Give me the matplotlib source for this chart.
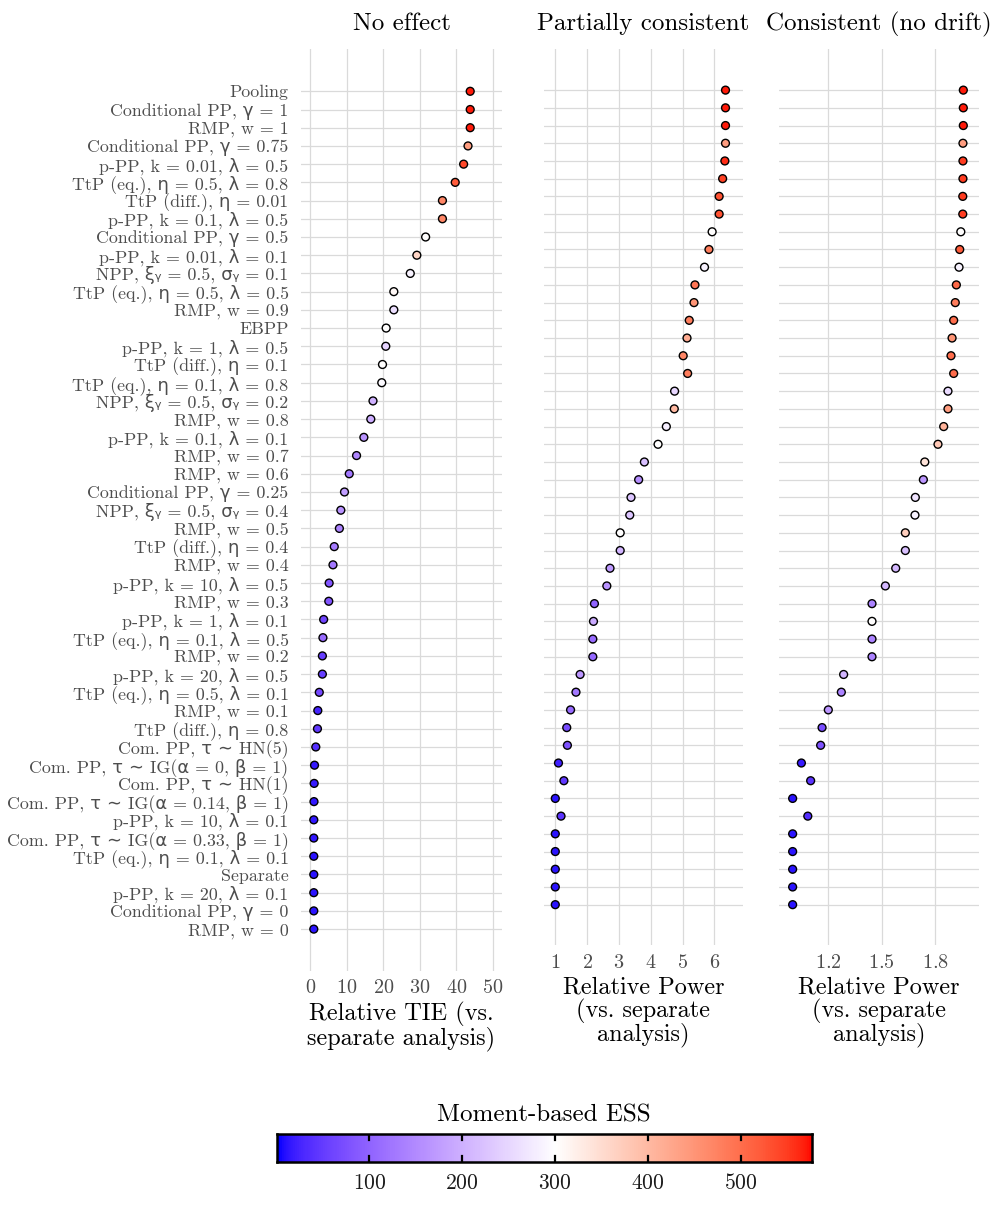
import numpy as np
import matplotlib
matplotlib.use("Agg")
import matplotlib.pyplot as plt
from matplotlib.colors import ListedColormap, TwoSlopeNorm

plt.rcParams['font.family'] = ['cmr10', 'DejaVu Sans']
plt.rcParams['axes.formatter.use_mathtext'] = True

# methods, top to bottom as in the "No effect" panel
methods = [
    "Pooling", "Conditional PP, γ = 1", "RMP, w = 1", "Conditional PP, γ = 0.75",
    "p-PP, k = 0.01, λ = 0.5", "TtP (eq.), η = 0.5, λ = 0.8", "TtP (diff.), η = 0.01",
    "p-PP, k = 0.1, λ = 0.5", "Conditional PP, γ = 0.5", "p-PP, k = 0.01, λ = 0.1",
    "NPP, ξᵧ = 0.5, σᵧ = 0.1", "TtP (eq.), η = 0.5, λ = 0.5", "RMP, w = 0.9", "EBPP",
    "p-PP, k = 1, λ = 0.5", "TtP (diff.), η = 0.1", "TtP (eq.), η = 0.1, λ = 0.8",
    "NPP, ξᵧ = 0.5, σᵧ = 0.2", "RMP, w = 0.8", "p-PP, k = 0.1, λ = 0.1", "RMP, w = 0.7",
    "RMP, w = 0.6", "Conditional PP, γ = 0.25", "NPP, ξᵧ = 0.5, σᵧ = 0.4", "RMP, w = 0.5",
    "TtP (diff.), η = 0.4", "RMP, w = 0.4", "p-PP, k = 10, λ = 0.5", "RMP, w = 0.3",
    "p-PP, k = 1, λ = 0.1", "TtP (eq.), η = 0.1, λ = 0.5", "RMP, w = 0.2",
    "p-PP, k = 20, λ = 0.5", "TtP (eq.), η = 0.5, λ = 0.1", "RMP, w = 0.1",
    "TtP (diff.), η = 0.8", "Com. PP, τ ∼ HN(5)", "Com. PP, τ ∼ IG(α = 0, β = 1)",
    "Com. PP, τ ∼ HN(1)", "Com. PP, τ ∼ IG(α = 0.14, β = 1)", "p-PP, k = 10, λ = 0.1",
    "Com. PP, τ ∼ IG(α = 0.33, β = 1)", "TtP (eq.), η = 0.1, λ = 0.1", "Separate",
    "p-PP, k = 20, λ = 0.1", "Conditional PP, γ = 0", "RMP, w = 0",
]

# panel 1: relative TIE and ESS
tie = [43.8, 43.8, 43.8, 43.2, 42.0, 39.7, 36.2, 36.2, 31.6, 29.2, 27.4, 22.9,
       22.9, 20.8, 20.7, 19.8, 19.6, 17.2, 16.6, 14.7, 12.7, 10.7, 9.4, 8.4, 8.0,
       6.6, 6.25, 5.2, 5.1, 3.7, 3.5, 3.35, 3.35, 2.5, 2.1, 2.0, 1.55, 1.2, 1.1,
       1.05, 1.0, 1.0, 1.0, 1.0, 1.0, 1.0, 1.0]
ess_tie = [570, 570, 570, 440, 540, 520, 470, 470, 300, 360, 285, 310, 260, 300,
           245, 300, 295, 200, 195, 160, 145, 125, 175, 160, 140, 130, 125, 80, 80,
           60, 110, 50, 50, 65, 25, 45, 35, 15, 15, 12, 12, 12, 10, 10, 10, 10, 10]

# panel 2: relative power, partially consistent
pow_part = [6.35, 6.35, 6.35, 6.35, 6.33, 6.26, 6.15, 6.15, 5.93, 5.83, 5.69,
            5.39, 5.36, 5.21, 5.14, 5.02, 5.16, 4.75, 4.74, 4.49, 4.23, 3.80, 3.62,
            3.38, 3.34, 3.04, 3.04, 2.72, 2.62, 2.23, 2.20, 2.18, 2.18, 1.78, 1.65,
            1.48, 1.36, 1.38, 1.10, 1.27, 1.0, 1.18, 1.0, 1.0, 1.0, 1.0, 1.0]
ess_part = [570, 570, 570, 440, 560, 545, 530, 530, 300, 480, 285, 490, 450, 480,
            420, 470, 480, 250, 400, 280, 300, 220, 155, 225, 225, 300, 205, 170,
            160, 100, 190, 110, 105, 165, 125, 110, 70, 75, 20, 45, 10, 40, 10, 10,
            10, 10, 10]

# panel 3: relative power, consistent (no drift)
pow_cons = [1.957, 1.957, 1.957, 1.955, 1.955, 1.955, 1.954, 1.954, 1.943, 1.937,
            1.933, 1.918, 1.912, 1.903, 1.894, 1.888, 1.903, 1.871, 1.871, 1.847,
            1.815, 1.741, 1.733, 1.688, 1.686, 1.632, 1.632, 1.578, 1.52, 1.445,
            1.445, 1.445, 1.445, 1.286, 1.273, 1.20, 1.165, 1.157, 1.049, 1.101,
            1.0, 1.085, 1.0, 1.0, 1.0, 1.0, 1.0]
ess_cons = [570, 570, 570, 440, 550, 550, 550, 550, 300, 520, 285, 505, 480, 500,
            450, 500, 500, 255, 440, 410, 380, 340, 165, 265, 285, 370, 220, 210,
            210, 140, 300, 140, 140, 205, 140, 165, 70, 75, 15, 40, 10, 35, 10, 10,
            10, 10, 10]

titles = ["No effect", "Partially consistent", "Consistent (no drift)"]
xlabels = ["Relative TIE (vs.\nseparate analysis)",
           "Relative Power\n(vs. separate\nanalysis)",
           "Relative Power\n(vs. separate\nanalysis)"]
ess_ticks = [100, 200, 300, 400, 500]
ess_min, ess_mid, ess_max = 0, 300, 577


def srgb_to_lab(c):
    c = np.asarray(c, float)
    lin = np.where(c <= 0.04045, c / 12.92, ((c + 0.055) / 1.055) ** 2.4)
    xyz = M @ lin / WHITE
    f = np.where(xyz > 0.008856, np.cbrt(xyz), 7.787 * xyz + 16 / 116)
    return np.array([116 * f[1] - 16, 500 * (f[0] - f[1]), 200 * (f[1] - f[2])])


def lab_to_srgb(lab):
    L, a, b = lab
    fy = (L + 16) / 116
    f = np.array([fy + a / 500, fy, fy - b / 200])
    xyz = np.where(f ** 3 > 0.008856, f ** 3, (f - 16 / 116) / 7.787) * WHITE
    lin = np.linalg.solve(M, xyz)
    c = np.where(lin <= 0.0031308, 12.92 * lin, 1.055 * np.abs(lin) ** (1 / 2.4) - 0.055)
    return np.clip(c, 0, 1)


M = np.array([[0.4124, 0.3576, 0.1805], [0.2126, 0.7152, 0.0722], [0.0193, 0.1192, 0.9505]])
WHITE = np.array([0.95047, 1.0, 1.08883])

# blue - white - red gradient interpolated in Lab (like ggplot's gradient2)
lab_lo, lab_mid, lab_hi = srgb_to_lab([0, 0, 1]), srgb_to_lab([1, 1, 1]), srgb_to_lab([1, 0, 0])
cols = []
for t in np.linspace(0, 1, 256):
    if t <= 0.5:
        lab = lab_lo + (lab_mid - lab_lo) * (t / 0.5)
    else:
        lab = lab_mid + (lab_hi - lab_mid) * ((t - 0.5) / 0.5)
    cols.append(lab_to_srgb(lab))
cmap = ListedColormap(cols)
norm = TwoSlopeNorm(vmin=ess_min, vcenter=ess_mid, vmax=ess_max)

W, H = 997, 1231
fig = plt.figure(figsize=(W / 100, H / 100), dpi=100)


def px_axes(left, right, top, bottom):
    return fig.add_axes([left / W, 1 - bottom / H, (right - left) / W, (bottom - top) / H])


rows = np.arange(len(methods))[::-1]
panels = [
    (px_axes(301, 502, 49.4, 971), tie, ess_tie, (-2.5, 52.5), [0, 10, 20, 30, 40, 50]),
    (px_axes(544, 743, 49.4, 945.4), pow_part, ess_part, (0.645, 6.90), [1, 2, 3, 4, 5, 6]),
    (px_axes(779, 979, 49.4, 945.4), pow_cons, ess_cons, (0.9235, 2.045), [1.2, 1.5, 1.8]),
]

for k, (ax, xv, ev, xlim, xt) in enumerate(panels):
    ax.scatter(xv, rows, c=ev, cmap=cmap, norm=norm, s=32, edgecolors="black",
               linewidths=1.0, zorder=3)
    ax.set_xlim(*xlim)
    ax.set_ylim(-2.3, 48.3)
    ax.set_xticks(xt)
    ax.set_yticks(rows)
    ax.grid(True, color="#dadada", linewidth=0.9)
    ax.set_axisbelow(True)
    for s in ax.spines.values():
        s.set_visible(False)
    ax.tick_params(length=0, labelsize=14.5, labelcolor="#4d4d4d")
    ax.tick_params(axis="x", pad=6)
    if k == 0:
        ax.set_yticklabels(methods, fontsize=12.9)
        ax.tick_params(axis="y", pad=9)
    else:
        ax.set_yticklabels([])
    ax.set_title(titles[k], fontsize=18, pad=14)
    ax.set_xlabel(xlabels[k], fontsize=17.5, linespacing=1.0, labelpad=3)

# colour bar
cax = px_axes(276.5, 812, 1134, 1162)
grad = np.linspace(ess_min, ess_max, 512)[None, :]
cax.imshow(grad, cmap=cmap, norm=norm, aspect="auto",
           extent=[ess_min, ess_max, 0, 1])
cax.set_xlim(ess_min, ess_max)
cax.set_ylim(0, 1)
for t in ess_ticks:
    cax.plot([t, t], [0, 0.22], color="black", lw=1.6)
    cax.plot([t, t], [0.78, 1], color="black", lw=1.6)
cax.set_yticks([])
cax.set_xticks(ess_ticks)
cax.tick_params(length=0, labelsize=15.5, pad=8, labelcolor="#1a1a1a")
for s in cax.spines.values():
    s.set_linewidth(1.8)
cax.set_title("Moment-based ESS", fontsize=18, pad=9)

fig.savefig("out.png", dpi=100)
